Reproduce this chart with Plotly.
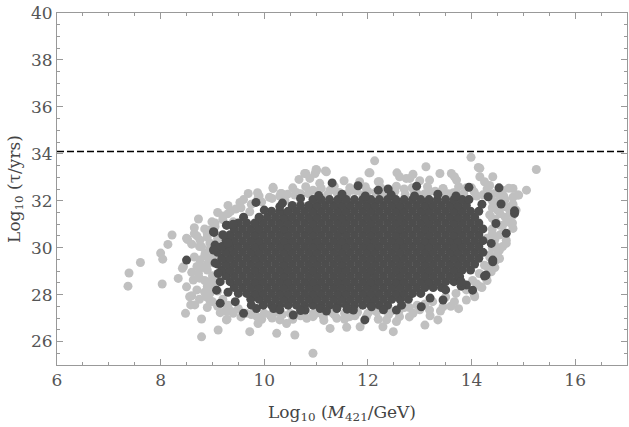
import plotly.graph_objects as go

# horizontal bound (dashed line)
limit = 34.1

# light grey points (full scan), outer scatter
gray_x = [7.37, 7.39, 7.61, 8.0, 8.04, 8.03, 8.22, 8.14, 8.34, 8.42,
          8.48, 8.58, 8.6, 8.79, 8.79, 8.52, 8.73, 8.99, 8.95, 8.79,
          8.5, 8.56, 8.66, 8.88, 8.76, 8.73, 8.44, 8.5, 8.76, 8.86,
          8.63, 8.65, 8.9, 9.05, 9.2, 9.3, 9.45, 9.4, 9.72, 9.53,
          8.95, 9.1, 8.9, 9.0, 8.8, 9.02, 8.85, 9.0, 8.9, 9.05,
          8.95, 9.1, 9.0, 9.2, 9.3, 9.15, 9.27, 9.35, 9.5, 9.65,
          9.72, 9.88, 10.24, 10.59, 10.94, 11.27, 11.59, 11.85, 9.86, 10.11,
          10.3, 10.43, 10.82, 10.94, 11.14, 11.4, 11.65, 11.97, 12.17, 12.1,
          9.11, 9.28, 10.0, 10.25, 10.5, 10.7, 11.0, 11.3, 11.55, 11.8,
          12.49, 12.29, 12.36, 12.61, 12.87, 13.1, 13.35, 13.19, 13.45, 13.67,
          13.9, 14.06, 12.45, 12.7, 12.95, 13.25, 13.5, 13.7, 13.9, 12.55,
          14.18, 14.28, 14.38, 14.47, 14.54, 14.67, 14.77, 14.8, 14.86, 14.8,
          14.67, 14.54, 14.38, 14.02, 14.15, 14.25, 14.35, 14.45, 14.55, 14.6,
          14.65, 14.7, 14.4, 14.45, 14.5, 14.4, 14.6, 14.79, 14.67, 14.41,
          14.3, 14.35,
          9.87, 10.17, 10.33, 10.59, 10.67, 10.8, 10.88, 11.0, 11.2, 10.94,
          9.69, 9.88, 10.1, 10.4, 10.7, 11.07, 11.27, 11.45, 11.54, 11.7,
          11.84, 12.0, 12.22, 12.04, 12.13, 12.56, 12.61, 12.81, 12.5, 12.7,
          13.0, 13.19, 13.39, 13.61, 13.71, 13.12, 13.99, 13.2, 13.45, 13.7,
          13.9, 14.16, 14.41, 14.25, 14.54, 14.8, 14.91, 15.06, 15.25, 14.1,
          11.9, 12.3, 12.95, 13.55, 14.3, 11.18, 10.78, 11.01, 12.02, 12.87,
          14.13, 13.67, 14.16, 14.72, 14.89, 12.2, 12.74, 10.17, 10.32, 10.98]
gray_y = [28.36, 28.92, 29.37, 29.77, 29.51, 28.45, 30.54, 30.14, 28.69, 29.12,
          27.2, 27.56, 27.95, 26.96, 26.2, 30.35, 31.22, 31.1, 30.75, 30.04,
          28.33, 27.91, 27.56, 27.91, 29.47, 28.9, 29.19, 30.4, 30.32, 29.76,
          28.62, 30.6, 30.45, 30.9, 31.2, 31.45, 31.65, 31.1, 31.53, 31.93,
          30.2, 30.4, 29.3, 29.6, 29.15, 29.35, 28.6, 28.8, 28.35, 28.5,
          28.05, 28.15, 27.7, 27.8, 27.55, 27.23, 26.92, 27.3, 27.4, 27.2,
          26.42, 26.77, 26.35, 26.28, 25.5, 26.56, 26.61, 26.63, 27.06, 27.13,
          26.92, 26.77, 26.99, 27.06, 27.06, 26.99, 27.06, 27.06, 27.27, 27.34,
          26.49, 26.95, 27.2, 27.25, 27.2, 27.1, 27.2, 27.25, 27.2, 27.25,
          26.42, 26.63, 26.92, 27.06, 27.2, 26.7, 26.92, 27.34, 27.48, 27.7,
          27.77, 27.91, 27.3, 27.45, 27.55, 27.7, 27.9, 28.05, 28.2, 26.85,
          28.33, 28.69, 29.05, 29.47, 29.9, 30.32, 31.03, 31.39, 31.6, 30.82,
          30.18, 29.54, 28.97, 28.6, 28.9, 29.25, 29.7, 30.1, 30.55, 30.95,
          31.3, 31.7, 30.6, 31.2, 31.6, 32.0, 32.0, 31.05, 31.74, 29.33,
          30.4, 31.4,
          32.34, 32.52, 32.31, 32.24, 32.91, 33.16, 32.95, 33.33, 33.23, 32.45,
          32.31, 32.1, 32.15, 32.0, 32.3, 32.74, 32.45, 32.35, 32.85, 32.45,
          32.81, 32.4, 32.81, 33.19, 33.7, 33.19, 33.02, 32.95, 32.35, 32.5,
          32.85, 32.88, 33.16, 33.16, 32.88, 33.45, 33.85, 32.4, 32.5, 32.35,
          32.55, 33.38, 33.02, 32.81, 32.24, 32.52, 32.24, 32.45, 33.33, 32.2,
          32.25, 32.25, 32.3, 32.3, 32.5, 33.27, 33.16, 33.3, 33.19, 33.13,
          33.42, 33.02, 33.02, 32.53, 32.24, 32.81, 32.95, 32.57, 32.31, 33.16]

# light grey points packed in the band just round the dark core
band_x = [10.45, 10.62, 10.85, 11.05, 11.22, 11.4, 11.6, 11.78, 11.95, 12.15, 12.35, 12.52,
          12.72, 12.9, 13.1, 13.3, 13.48, 13.65, 13.85, 14.05, 14.22, 14.42, 14.62,
          10.55, 10.8, 11.1, 11.35, 11.65, 11.95, 12.25, 12.55, 12.85, 13.15, 13.45, 13.75,
          14.0, 14.35, 14.6,
          14.35, 14.5, 14.4, 14.6, 14.45, 14.6, 14.4, 14.55, 14.7, 14.4, 14.55, 14.75,
          14.4, 14.6, 14.8, 14.45, 14.65, 14.8, 14.3, 14.3, 14.45, 14.2, 14.05, 14.1,
          8.65, 8.85, 8.7, 8.9, 8.6, 8.75, 8.95, 8.65, 8.85, 8.95, 8.7, 8.9,
          8.6, 8.75, 8.95, 8.7, 8.85, 9.05, 8.75, 8.95, 9.1, 8.9, 9.25, 9.4,
          9.05, 9.2, 9.35, 9.55, 9.75, 9.95, 10.15, 10.3, 9.1, 9.3, 9.6, 9.9,
          9.55, 9.75, 9.95, 10.15, 10.35, 10.55, 10.75, 10.95, 11.15, 11.35, 11.55, 11.75,
          12.0, 12.2, 12.4, 12.6, 12.8, 13.0, 13.2, 13.4, 13.6, 13.75, 13.1, 12.8]
band_y = [32.28, 32.35, 32.3, 32.4, 32.25, 32.35, 32.3, 32.42, 32.28, 32.36, 32.3, 32.4,
          32.27, 32.35, 32.3, 32.4, 32.26, 32.34, 32.3, 32.38, 32.25, 32.3, 32.2,
          32.55, 32.6, 32.52, 32.62, 32.55, 32.6, 32.55, 32.62, 32.55, 32.6, 32.52, 32.6,
          32.55, 32.65, 32.45,
          29.6, 29.75, 30.0, 30.05, 30.35, 30.6, 30.8, 30.95, 31.1, 31.25, 31.45, 31.5,
          31.7, 31.75, 31.85, 31.95, 32.05, 32.15, 28.6, 29.2, 29.15, 28.3, 28.0, 28.45,
          30.85, 30.8, 30.5, 30.6, 30.15, 30.05, 29.95, 29.6, 29.65, 29.45, 29.2, 29.05,
          28.95, 28.7, 28.55, 28.2, 28.1, 28.3, 27.8, 27.75, 27.5, 27.45, 27.3, 27.2,
          31.05, 31.35, 31.55, 31.7, 31.85, 31.95, 32.1, 32.2, 31.5, 31.8, 32.05, 32.2,
          27.05, 27.15, 26.95, 27.0, 27.15, 26.95, 27.25, 27.2, 26.9, 27.15, 26.95, 27.1,
          27.2, 26.95, 27.15, 27.3, 27.05, 27.35, 27.1, 27.3, 27.5, 27.4, 27.6, 27.45]

# dark grey points: dense core, read row by row
core_row_y = [27.55, 27.8, 28.05, 28.3, 28.55, 28.8, 29.05, 29.3, 29.55, 29.8,
              30.05, 30.3, 30.55, 30.8, 31.05, 31.3, 31.55, 31.8, 32.05]
core_row_x = [
    [9.98, 10.14, 10.3, 10.46, 10.62, 10.78, 10.94, 11.1, 11.26, 11.42, 11.58, 11.74, 11.9, 12.06, 12.22, 12.38],
    [9.74, 9.9, 10.06, 10.22, 10.38, 10.54, 10.7, 10.86, 11.02, 11.18, 11.34, 11.5, 11.66, 11.82, 11.98, 12.14,
     12.3, 12.46, 12.62, 12.78],
    [9.5, 9.66, 9.82, 9.98, 10.14, 10.3, 10.46, 10.62, 10.78, 10.94, 11.1, 11.26, 11.42, 11.58, 11.74, 11.9,
     12.06, 12.22, 12.38, 12.54, 12.7, 12.86, 13.02],
    [9.42, 9.58, 9.74, 9.9, 10.06, 10.22, 10.38, 10.54, 10.7, 10.86, 11.02, 11.18, 11.34, 11.5, 11.66, 11.82,
     11.98, 12.14, 12.3, 12.46, 12.62, 12.78, 12.94, 13.1, 13.26, 13.42],
    [9.34, 9.5, 9.66, 9.82, 9.98, 10.14, 10.3, 10.46, 10.62, 10.78, 10.94, 11.1, 11.26, 11.42, 11.58, 11.74,
     11.9, 12.06, 12.22, 12.38, 12.54, 12.7, 12.86, 13.02, 13.18, 13.34, 13.5, 13.66],
    [9.26, 9.42, 9.58, 9.74, 9.9, 10.06, 10.22, 10.38, 10.54, 10.7, 10.86, 11.02, 11.18, 11.34, 11.5, 11.66,
     11.82, 11.98, 12.14, 12.3, 12.46, 12.62, 12.78, 12.94, 13.1, 13.26, 13.42, 13.58, 13.74],
    [9.18, 9.34, 9.5, 9.66, 9.82, 9.98, 10.14, 10.3, 10.46, 10.62, 10.78, 10.94, 11.1, 11.26, 11.42, 11.58,
     11.74, 11.9, 12.06, 12.22, 12.38, 12.54, 12.7, 12.86, 13.02, 13.18, 13.34, 13.5, 13.66, 13.82, 13.98],
    [9.1, 9.26, 9.42, 9.58, 9.74, 9.9, 10.06, 10.22, 10.38, 10.54, 10.7, 10.86, 11.02, 11.18, 11.34, 11.5,
     11.66, 11.82, 11.98, 12.14, 12.3, 12.46, 12.62, 12.78, 12.94, 13.1, 13.26, 13.42, 13.58, 13.74, 13.9, 14.06],
    [9.18, 9.34, 9.5, 9.66, 9.82, 9.98, 10.14, 10.3, 10.46, 10.62, 10.78, 10.94, 11.1, 11.26, 11.42, 11.58,
     11.74, 11.9, 12.06, 12.22, 12.38, 12.54, 12.7, 12.86, 13.02, 13.18, 13.34, 13.5, 13.66, 13.82, 13.98, 14.14],
    [9.1, 9.26, 9.42, 9.58, 9.74, 9.9, 10.06, 10.22, 10.38, 10.54, 10.7, 10.86, 11.02, 11.18, 11.34, 11.5,
     11.66, 11.82, 11.98, 12.14, 12.3, 12.46, 12.62, 12.78, 12.94, 13.1, 13.26, 13.42, 13.58, 13.74, 13.9, 14.06, 14.22],
    [9.18, 9.34, 9.5, 9.66, 9.82, 9.98, 10.14, 10.3, 10.46, 10.62, 10.78, 10.94, 11.1, 11.26, 11.42, 11.58,
     11.74, 11.9, 12.06, 12.22, 12.38, 12.54, 12.7, 12.86, 13.02, 13.18, 13.34, 13.5, 13.66, 13.82, 13.98, 14.14],
    [9.26, 9.42, 9.58, 9.74, 9.9, 10.06, 10.22, 10.38, 10.54, 10.7, 10.86, 11.02, 11.18, 11.34, 11.5, 11.66,
     11.82, 11.98, 12.14, 12.3, 12.46, 12.62, 12.78, 12.94, 13.1, 13.26, 13.42, 13.58, 13.74, 13.9, 14.06, 14.22],
    [9.34, 9.5, 9.66, 9.82, 9.98, 10.14, 10.3, 10.46, 10.62, 10.78, 10.94, 11.1, 11.26, 11.42, 11.58, 11.74,
     11.9, 12.06, 12.22, 12.38, 12.54, 12.7, 12.86, 13.02, 13.18, 13.34, 13.5, 13.66, 13.82, 13.98, 14.14],
    [9.42, 9.58, 9.74, 9.9, 10.06, 10.22, 10.38, 10.54, 10.7, 10.86, 11.02, 11.18, 11.34, 11.5, 11.66, 11.82,
     11.98, 12.14, 12.3, 12.46, 12.62, 12.78, 12.94, 13.1, 13.26, 13.42, 13.58, 13.74, 13.9, 14.06, 14.22],
    [9.5, 9.66, 9.82, 9.98, 10.14, 10.3, 10.46, 10.62, 10.78, 10.94, 11.1, 11.26, 11.42, 11.58, 11.74, 11.9,
     12.06, 12.22, 12.38, 12.54, 12.7, 12.86, 13.02, 13.18, 13.34, 13.5, 13.66, 13.82, 13.98, 14.14],
    [9.9, 10.06, 10.22, 10.38, 10.54, 10.7, 10.86, 11.02, 11.18, 11.34, 11.5, 11.66, 11.82, 11.98, 12.14, 12.3,
     12.46, 12.62, 12.78, 12.94, 13.1, 13.26, 13.42, 13.58, 13.74, 13.9, 14.06],
    [10.14, 10.3, 10.46, 10.62, 10.78, 10.94, 11.1, 11.26, 11.42, 11.58, 11.74, 11.9, 12.06, 12.22, 12.38,
     12.54, 12.7, 12.86, 13.02, 13.18, 13.34, 13.5, 13.66, 13.82, 13.98, 14.14],
    [10.54, 10.7, 10.86, 11.02, 11.18, 11.34, 11.5, 11.66, 11.82, 11.98, 12.14, 12.3, 12.46, 12.62, 12.78,
     12.94, 13.1, 13.26, 13.42, 13.58, 13.74, 13.9],
    [10.94, 11.1, 11.26, 11.42, 11.58, 11.74, 11.9, 12.06, 12.22, 12.38, 12.54, 12.7, 12.86, 13.02, 13.18,
     13.34, 13.5, 13.66, 13.82],
]

# dark grey points scattered round the core
dark_x = [8.5, 9.03, 9.28, 9.84, 9.02, 9.27, 9.05, 9.11, 9.08, 9.44,
          9.15, 9.6, 9.85, 10.18, 10.56, 11.08, 11.4, 11.72, 12.07, 11.94,
          10.79, 12.55, 13.03, 13.45, 13.77, 13.9, 14.02, 14.28, 14.25, 13.8,
          14.41, 14.41, 14.38, 14.67, 14.47, 14.83, 14.83, 14.57, 14.32, 14.53,
          13.95, 12.94, 12.39, 12.2, 11.81, 11.31, 10.3, 10.0, 9.6, 9.3,
          11.05, 11.5, 11.95, 12.45, 12.9, 13.35, 13.7, 10.7, 10.35, 13.95,
          14.2, 10.3, 10.7, 11.2, 11.6, 12.3, 12.65, 9.75, 13.2, 13.5,
          13.8, 9.02, 9.05, 9.15, 9.3, 9.2, 9.4]
dark_y = [29.47, 30.65, 30.96, 31.93, 30.68, 30.96, 30.11, 28.9, 28.19, 27.7,
          27.63, 27.2, 27.41, 27.41, 27.13, 27.41, 27.41, 27.34, 27.48, 26.92,
          27.34, 27.34, 27.48, 27.77, 28.76, 28.41, 28.19, 28.83, 28.79, 28.36,
          29.47, 29.4, 30.18, 30.61, 31.03, 31.46, 31.57, 31.86, 32.17, 32.55,
          32.57, 32.62, 32.5, 32.45, 32.64, 32.76, 31.75, 31.6, 31.3, 30.2,
          32.22, 32.28, 32.2, 32.25, 32.2, 32.28, 32.2, 32.1, 31.9, 32.05,
          31.85, 27.35, 27.32, 27.3, 27.38, 27.35, 27.55, 27.55, 27.85, 28.2,
          28.55, 29.9, 29.35, 28.55, 28.1, 30.55, 31.0]

all_dark_x = []
all_dark_y = []
for y, xs in zip(core_row_y, core_row_x):
    all_dark_x += xs
    all_dark_y += [y] * len(xs)
all_dark_x += dark_x
all_dark_y += dark_y

fig = go.Figure()
fig.add_trace(go.Scatter(x=gray_x + band_x, y=gray_y + band_y, mode='markers',
                         marker=dict(size=9, color='rgb(192,192,192)', line=dict(width=0))))
fig.add_trace(go.Scatter(x=all_dark_x, y=all_dark_y, mode='markers',
                         marker=dict(size=9, color='rgb(77,77,77)', line=dict(width=0))))
fig.add_hline(y=limit, line=dict(color='black', width=1.5, dash='7px,3px'))

axis_style = dict(showgrid=False, zeroline=False, showline=True, linecolor='#999999', linewidth=1,
                  mirror='ticks', ticks='inside', ticklen=6, tickcolor='#999999', automargin=False,
                  tickfont=dict(family='DejaVu Serif', size=17, color='#555555'))

fig.update_xaxes(range=[6, 17], tick0=6, dtick=2,
                 minor=dict(ticks='inside', ticklen=3, dtick=0.5, tick0=6, tickcolor='#999999'),
                 title=dict(text='Log<sub>10</sub> (<i>M</i><sub>421</sub>/GeV)', standoff=16,
                            font=dict(family='DejaVu Serif', size=17, color='#444444')),
                 **axis_style)
fig.update_yaxes(range=[25, 40], tick0=0, dtick=2,
                 minor=dict(ticks='inside', ticklen=3, dtick=0.5, tick0=0, tickcolor='#999999'),
                 title=dict(text='Log<sub>10</sub> (τ/yrs)', standoff=6,
                            font=dict(family='DejaVu Serif', size=17, color='#444444')),
                 **axis_style)

fig.update_layout(width=629, height=427, showlegend=False,
                  margin=dict(l=57, r=2, t=13, b=62),
                  plot_bgcolor='white', paper_bgcolor='white')

# drop the default page margin so the figure sits at the window corner
fig.write_html("out.html", config={'displayModeBar': False},
               post_script="document.body.style.margin = '0';")
